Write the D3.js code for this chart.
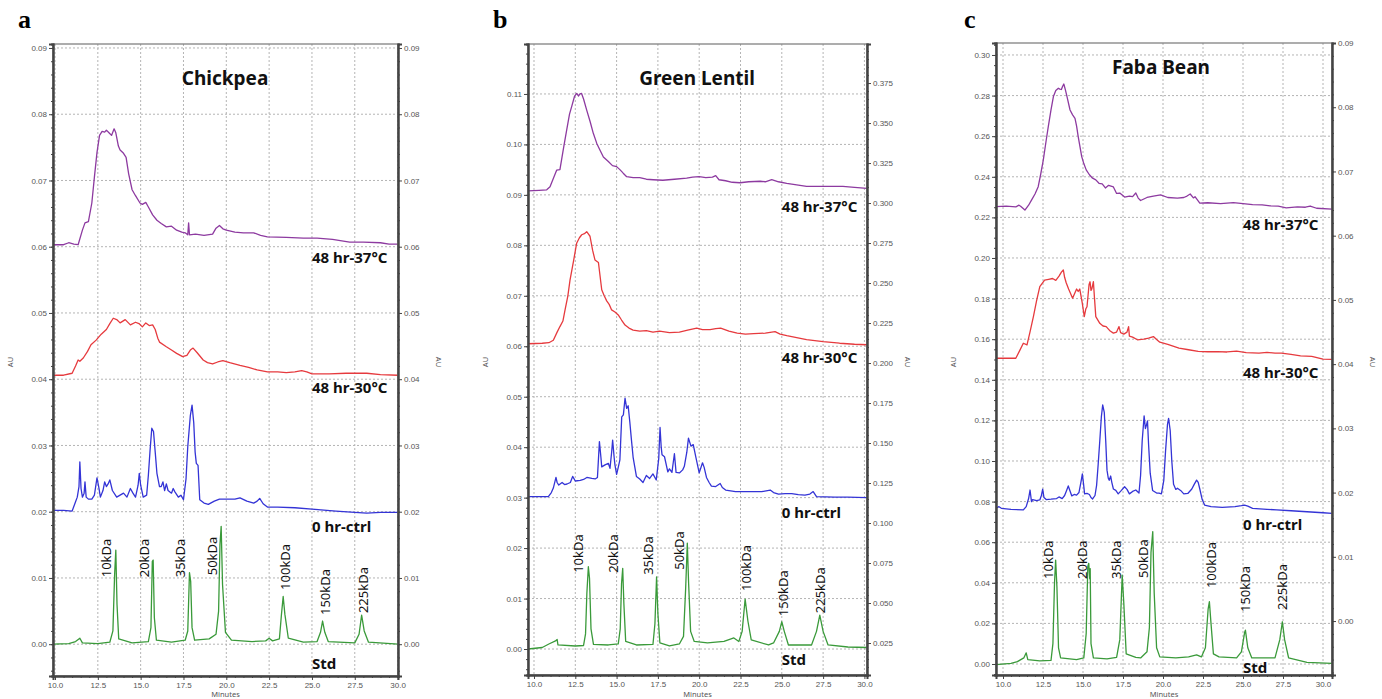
<!DOCTYPE html>
<html>
<head>
<meta charset="utf-8">
<script src="https://cdn.jsdelivr.net/npm/d3@7"></script>
<style>
  body { margin: 0; background: #fff; }
  svg { display: block; font-family: 'Noto Sans', sans-serif; }
</style>
</head>
<body>
<svg id="chart" width="1382" height="699"></svg>
<script>
// tick labels
let minuteTicks = [10, 12.5, 15, 17.5, 20, 22.5, 25, 27.5, 30]
let auTicksA = [0, 0.01, 0.02, 0.03, 0.04, 0.05, 0.06, 0.07, 0.08, 0.09]
let auTicksB = [0, 0.01, 0.02, 0.03, 0.04, 0.05, 0.06, 0.07, 0.08, 0.09, 0.10, 0.11]
let auTicksBRight = [0.025, 0.05, 0.075, 0.1, 0.125, 0.15, 0.175, 0.2, 0.225, 0.25, 0.275, 0.3, 0.325, 0.35, 0.375]
let auTicksC = [0, 0.02, 0.04, 0.06, 0.08, 0.10, 0.12, 0.14, 0.16, 0.18, 0.20, 0.22, 0.24, 0.26, 0.28, 0.30]
let auTicksCRight = [0, 0.01, 0.02, 0.03, 0.04, 0.05, 0.06, 0.07, 0.08, 0.09]

let seriesNames = ['48 hr-37°C', '48 hr-30°C', '0 hr-ctrl', 'Std']
let kdaNames = ['10kDa', '20kDa', '35kDa', '50kDa', '100kDa', '150kDa', '225kDa']

// chromatograms, [minutes, AU]
let chickpea37 = [[9.88,0.0603],[10.5,0.0603],[10.8,0.0606],[11.1,0.0604],[11.35,0.0603],[11.6,0.0625],[11.75,0.0636],[11.95,0.0638],[12.15,0.0666],[12.3,0.0705],[12.45,0.0742],[12.6,0.0768],[12.75,0.0774],[12.9,0.0773],[13.0,0.0776],[13.15,0.0772],[13.3,0.0768],[13.45,0.0778],[13.55,0.0772],[13.7,0.0752],[13.8,0.0746],[14.0,0.0741],[14.15,0.0735],[14.3,0.071],[14.5,0.0686],[14.7,0.0677],[14.96,0.0666],[15.1,0.0664],[15.3,0.0667],[15.45,0.066],[15.7,0.0648],[15.95,0.064],[16.2,0.0635],[16.5,0.063],[16.8,0.0631],[17.1,0.0625],[17.4,0.0622],[17.6,0.0621],[17.75,0.0618],[17.8,0.0636],[17.85,0.0618],[18.2,0.0619],[18.7,0.0617],[19.2,0.0619],[19.4,0.0628],[19.6,0.0632],[19.8,0.0627],[20.0,0.0625],[20.5,0.0622],[21.0,0.0621],[21.6,0.0621],[22.0,0.0617],[22.4,0.0615],[23.5,0.0614],[24.5,0.0613],[25.3,0.0613],[26.2,0.0611],[27.2,0.0607],[28.0,0.0607],[29.0,0.0606],[29.5,0.0604],[30.02,0.0604]]
let chickpea30 = [[9.88,0.0406],[10.5,0.0406],[11.0,0.0409],[11.2,0.042],[11.35,0.0429],[11.45,0.0427],[11.65,0.0432],[11.9,0.0442],[12.1,0.0452],[12.4,0.0459],[12.7,0.0468],[13.0,0.0475],[13.2,0.0484],[13.4,0.0492],[13.6,0.049],[13.8,0.0485],[14.1,0.049],[14.4,0.0482],[14.7,0.0486],[14.9,0.0484],[15.1,0.0479],[15.3,0.0485],[15.5,0.0481],[15.7,0.0482],[15.85,0.0475],[16.0,0.0462],[16.1,0.0456],[16.5,0.0449],[16.8,0.0444],[17.1,0.0439],[17.45,0.0434],[17.7,0.0436],[17.9,0.0444],[18.06,0.0447],[18.3,0.044],[18.65,0.0429],[18.9,0.0425],[19.2,0.0423],[19.5,0.0426],[19.8,0.0428],[20.2,0.0425],[20.8,0.0421],[21.3,0.0418],[21.8,0.0414],[22.4,0.0411],[23.0,0.0411],[23.5,0.041],[24.0,0.0411],[24.4,0.0413],[24.7,0.0411],[25.0,0.0408],[26.0,0.0408],[27.0,0.0409],[28.2,0.0409],[29.0,0.0407],[30.02,0.0406]]
let chickpeaCtrl = [[9.88,0.0202],[10.5,0.0202],[11.0,0.0201],[11.2,0.0215],[11.3,0.0222],[11.4,0.0238],[11.45,0.0275],[11.52,0.0235],[11.6,0.0222],[11.7,0.0228],[11.75,0.0245],[11.82,0.0222],[11.95,0.0219],[12.15,0.0219],[12.3,0.0225],[12.45,0.0251],[12.55,0.0238],[12.65,0.0222],[12.8,0.0232],[12.9,0.0245],[13.0,0.0238],[13.1,0.0242],[13.2,0.0248],[13.35,0.0232],[13.6,0.0222],[13.8,0.0225],[14.0,0.0228],[14.2,0.0222],[14.4,0.0235],[14.55,0.0228],[14.7,0.0222],[14.85,0.024],[14.92,0.0258],[15.0,0.024],[15.15,0.0222],[15.35,0.0225],[15.45,0.0255],[15.55,0.0293],[15.65,0.0326],[15.75,0.0321],[15.85,0.029],[15.95,0.0258],[16.1,0.0238],[16.2,0.0238],[16.3,0.0245],[16.4,0.0232],[16.5,0.0242],[16.6,0.0232],[16.8,0.0228],[16.9,0.0235],[17.0,0.023],[17.2,0.0222],[17.35,0.0225],[17.5,0.0218],[17.65,0.025],[17.75,0.0298],[17.9,0.0345],[18.0,0.0361],[18.1,0.0334],[18.18,0.029],[18.25,0.0273],[18.35,0.027],[18.45,0.0218],[18.7,0.0213],[18.95,0.0211],[19.3,0.0216],[19.6,0.0219],[20.0,0.0219],[20.5,0.0219],[20.8,0.0221],[21.2,0.0216],[21.6,0.0213],[21.8,0.0216],[21.95,0.022],[22.15,0.0212],[22.4,0.0207],[23.0,0.0207],[24.0,0.0206],[25.0,0.0204],[26.4,0.0201],[27.5,0.0199],[28.2,0.0198],[29.0,0.0199],[30.02,0.0199]]
let chickpeaStd = [[9.88,0.0],[10.8,0.0001],[11.2,0.0004],[11.45,0.0009],[11.6,0.0002],[12.5,0.0001],[13.2,0.0003],[13.38,0.002],[13.48,0.0105],[13.55,0.0142],[13.62,0.006],[13.72,0.0008],[14.5,0.0002],[15.45,0.0004],[15.6,0.0025],[15.68,0.0125],[15.73,0.0127],[15.8,0.004],[15.92,0.0006],[16.8,0.0003],[17.6,0.0006],[17.75,0.002],[17.85,0.0108],[17.92,0.0095],[18.0,0.0025],[18.15,0.0006],[19.0,0.0008],[19.4,0.0015],[19.55,0.005],[19.63,0.015],[19.7,0.0178],[19.78,0.009],[19.95,0.0018],[20.3,0.0006],[21.5,0.0004],[22.3,0.0005],[22.5,0.0009],[22.7,0.0005],[23.1,0.0008],[23.22,0.0045],[23.32,0.0072],[23.42,0.0045],[23.62,0.0009],[24.5,0.0003],[25.3,0.0004],[25.5,0.0018],[25.62,0.0035],[25.75,0.0018],[25.95,0.0004],[27.5,0.0002],[27.75,0.0015],[27.9,0.0044],[28.05,0.002],[28.3,0.0003],[30.02,0.0]]

let lentil37 = [[9.64,0.0908],[10.3,0.0909],[10.77,0.091],[10.97,0.0916],[11.2,0.0935],[11.37,0.0949],[11.57,0.095],[11.8,0.0995],[11.98,0.1029],[12.15,0.106],[12.28,0.1075],[12.45,0.1095],[12.58,0.1101],[12.7,0.1096],[12.78,0.11],[12.88,0.1101],[13.0,0.109],[13.19,0.1068],[13.4,0.1045],[13.59,0.1022],[13.8,0.1002],[13.99,0.0989],[14.2,0.0975],[14.5,0.0966],[14.75,0.0958],[15.0,0.0956],[15.2,0.095],[15.4,0.0943],[15.61,0.0936],[16.0,0.0934],[16.4,0.0934],[16.8,0.0931],[17.22,0.093],[17.8,0.0929],[18.5,0.0931],[19.24,0.0933],[19.6,0.0935],[20.0,0.0936],[20.4,0.0934],[20.8,0.0935],[21.0,0.0938],[21.2,0.093],[21.6,0.0928],[22.0,0.0925],[22.47,0.0924],[23.0,0.0926],[23.7,0.0927],[24.0,0.0926],[24.39,0.093],[24.8,0.0926],[25.3,0.0923],[25.9,0.092],[26.5,0.0917],[27.5,0.0917],[28.7,0.0917],[29.4,0.0915],[30.16,0.0913]]
let lentil30 = [[9.64,0.0605],[10.5,0.0606],[10.9,0.0607],[11.17,0.0612],[11.4,0.0628],[11.57,0.0639],[11.75,0.065],[11.88,0.0672],[12.05,0.07],[12.18,0.0731],[12.4,0.077],[12.58,0.0804],[12.75,0.0815],[12.89,0.0821],[13.05,0.0823],[13.19,0.0827],[13.3,0.0822],[13.39,0.0818],[13.55,0.079],[13.69,0.0771],[13.9,0.0766],[14.1,0.0712],[14.25,0.07],[14.4,0.069],[14.55,0.0683],[14.7,0.0672],[14.9,0.0668],[15.1,0.0662],[15.3,0.0652],[15.51,0.0642],[15.75,0.0636],[16.0,0.0632],[16.4,0.063],[16.8,0.0631],[17.2,0.0628],[17.6,0.063],[18.2,0.0627],[18.8,0.0628],[19.3,0.0632],[19.85,0.0636],[20.2,0.0633],[20.66,0.0633],[21.0,0.0635],[21.3,0.0636],[21.8,0.063],[22.3,0.0626],[22.8,0.0624],[23.3,0.0625],[24.0,0.0626],[24.59,0.0629],[24.9,0.0624],[25.3,0.0621],[25.9,0.0617],[26.5,0.0613],[27.5,0.0609],[28.5,0.0606],[29.4,0.0604],[30.16,0.0603]]
let lentilCtrl = [[9.64,0.0302],[10.3,0.0302],[10.87,0.0302],[11.05,0.031],[11.17,0.0319],[11.33,0.034],[11.4,0.033],[11.5,0.0325],[11.7,0.033],[11.85,0.0326],[12.0,0.0327],[12.2,0.033],[12.34,0.0342],[12.5,0.0333],[12.8,0.0334],[13.0,0.0336],[13.2,0.034],[13.5,0.0338],[13.7,0.0337],[13.84,0.034],[13.96,0.0411],[14.05,0.038],[14.1,0.0361],[14.3,0.0365],[14.5,0.0368],[14.6,0.0358],[14.7,0.039],[14.76,0.0414],[14.85,0.038],[14.9,0.0365],[15.0,0.0346],[15.1,0.036],[15.2,0.0375],[15.31,0.046],[15.41,0.0464],[15.51,0.0497],[15.61,0.0477],[15.7,0.0482],[15.8,0.045],[15.9,0.0414],[16.0,0.038],[16.1,0.0361],[16.2,0.0342],[16.4,0.0337],[16.6,0.033],[16.8,0.0344],[17.0,0.0338],[17.2,0.0347],[17.4,0.0335],[17.55,0.0377],[17.63,0.0439],[17.7,0.04],[17.75,0.0385],[17.9,0.0381],[18.1,0.0351],[18.2,0.0357],[18.35,0.035],[18.5,0.0387],[18.6,0.035],[18.8,0.0349],[19.0,0.0355],[19.1,0.0362],[19.25,0.039],[19.35,0.0418],[19.5,0.0402],[19.64,0.0405],[19.8,0.038],[20.0,0.0349],[20.2,0.0369],[20.3,0.036],[20.44,0.034],[20.6,0.033],[20.74,0.0323],[21.0,0.0322],[21.27,0.0328],[21.4,0.032],[21.6,0.0315],[22.2,0.0312],[23.2,0.0312],[23.8,0.0312],[24.3,0.0315],[24.5,0.031],[24.8,0.0307],[25.2,0.0308],[25.6,0.0308],[26.0,0.0306],[26.4,0.0305],[26.7,0.0307],[26.9,0.0312],[27.1,0.0302],[28.2,0.0301],[29.0,0.0301],[30.16,0.03]]
let lentilStd = [[9.64,0.0],[10.5,0.0003],[10.9,0.001],[11.3,0.0016],[11.4,0.0019],[11.45,0.0008],[12.5,0.0006],[13.0,0.0007],[13.12,0.003],[13.2,0.011],[13.29,0.0163],[13.36,0.014],[13.45,0.004],[13.6,0.0009],[14.5,0.0008],[15.1,0.001],[15.22,0.004],[15.3,0.013],[15.37,0.016],[15.44,0.009],[15.55,0.0015],[16.2,0.0008],[17.2,0.0009],[17.32,0.005],[17.42,0.0143],[17.5,0.007],[17.62,0.0012],[18.2,0.0006],[18.8,0.001],[19.05,0.0025],[19.18,0.012],[19.28,0.021],[19.36,0.013],[19.48,0.0035],[19.7,0.0015],[20.5,0.0012],[21.5,0.0015],[22.1,0.0022],[22.4,0.0015],[22.6,0.0035],[22.78,0.0099],[22.95,0.0055],[23.15,0.0018],[24.2,0.0008],[24.5,0.0012],[24.85,0.0035],[25.0,0.0054],[25.15,0.0035],[25.4,0.0008],[26.8,0.0008],[27.1,0.0035],[27.3,0.0067],[27.5,0.0035],[27.8,0.0008],[29.0,0.0004],[30.16,0.0003]]

let faba37 = [[9.56,0.2253],[10.2,0.2255],[10.8,0.2252],[11.0,0.226],[11.1,0.2255],[11.37,0.2236],[11.6,0.226],[11.79,0.2286],[12.0,0.2315],[12.2,0.2351],[12.35,0.241],[12.52,0.2483],[12.7,0.258],[12.83,0.2647],[13.0,0.273],[13.15,0.2795],[13.3,0.2825],[13.46,0.2836],[13.55,0.2832],[13.65,0.283],[13.72,0.2845],[13.8,0.2857],[13.9,0.2828],[14.0,0.2795],[14.19,0.2729],[14.35,0.2705],[14.5,0.2688],[14.6,0.265],[14.7,0.2598],[14.92,0.2499],[15.05,0.2465],[15.2,0.2434],[15.4,0.241],[15.6,0.2393],[15.8,0.2385],[16.0,0.2368],[16.2,0.2365],[16.4,0.2345],[16.6,0.2358],[16.9,0.235],[17.1,0.2318],[17.3,0.232],[17.6,0.23],[17.9,0.2305],[18.1,0.2302],[18.3,0.232],[18.45,0.2295],[18.6,0.2283],[19.0,0.2298],[19.4,0.2305],[19.85,0.2311],[20.3,0.2298],[20.9,0.2295],[21.3,0.2298],[21.5,0.2305],[21.7,0.2315],[21.9,0.2296],[22.0,0.2302],[22.3,0.227],[22.8,0.2272],[23.6,0.2268],[24.4,0.2273],[25.0,0.2268],[25.6,0.2263],[26.2,0.2262],[26.7,0.2257],[27.2,0.2255],[27.7,0.2247],[28.4,0.2252],[28.9,0.225],[29.2,0.2256],[29.6,0.2245],[30.56,0.2241]]
let faba30 = [[9.56,0.1506],[10.3,0.1506],[10.8,0.1506],[11.05,0.1545],[11.27,0.158],[11.5,0.1572],[11.7,0.164],[11.9,0.1711],[12.1,0.179],[12.3,0.1859],[12.6,0.1891],[12.85,0.1895],[13.1,0.1899],[13.3,0.189],[13.5,0.1911],[13.65,0.193],[13.77,0.1941],[13.85,0.1905],[13.95,0.1878],[14.1,0.1847],[14.35,0.1802],[14.45,0.182],[14.6,0.1847],[14.7,0.1835],[14.8,0.1847],[14.95,0.178],[15.08,0.1711],[15.18,0.175],[15.25,0.176],[15.38,0.187],[15.44,0.1883],[15.5,0.184],[15.55,0.1847],[15.65,0.1883],[15.72,0.18],[15.8,0.1711],[16.05,0.1678],[16.25,0.1665],[16.45,0.1662],[16.7,0.164],[16.9,0.163],[17.1,0.1635],[17.25,0.1662],[17.35,0.1632],[17.55,0.1625],[17.75,0.1635],[17.85,0.1662],[17.9,0.1615],[18.1,0.161],[18.4,0.1597],[18.8,0.16],[19.1,0.1605],[19.4,0.1613],[19.6,0.1598],[19.8,0.1585],[20.3,0.1575],[21.0,0.1556],[21.6,0.1548],[22.2,0.154],[22.8,0.1538],[23.4,0.1539],[24.0,0.1537],[24.6,0.1541],[25.2,0.1534],[26.0,0.1531],[26.5,0.1535],[27.0,0.1531],[27.4,0.1531],[28.0,0.1525],[28.6,0.1518],[29.3,0.1515],[30.0,0.1502],[30.56,0.1501]]
let fabaCtrl = [[9.56,0.0767],[9.75,0.0775],[9.9,0.0767],[10.5,0.0762],[11.27,0.0759],[11.45,0.0775],[11.6,0.0815],[11.69,0.0857],[11.78,0.08],[11.85,0.081],[12.1,0.0805],[12.3,0.0808],[12.4,0.083],[12.48,0.0861],[12.56,0.082],[12.7,0.081],[13.0,0.0812],[13.35,0.0815],[13.5,0.0823],[13.7,0.0815],[13.85,0.083],[13.95,0.085],[14.08,0.0877],[14.2,0.085],[14.3,0.0828],[14.45,0.0835],[14.6,0.0832],[14.75,0.0845],[14.88,0.09],[14.96,0.0936],[15.03,0.089],[15.1,0.0838],[15.25,0.084],[15.4,0.0835],[15.5,0.082],[15.6,0.0813],[15.75,0.083],[15.85,0.088],[15.95,0.0985],[16.05,0.11],[16.15,0.122],[16.23,0.1276],[16.33,0.124],[16.42,0.11],[16.5,0.0955],[16.58,0.0915],[16.64,0.0905],[16.73,0.0926],[16.8,0.0895],[16.9,0.0862],[17.05,0.0855],[17.2,0.0838],[17.4,0.0855],[17.6,0.0873],[17.75,0.086],[17.9,0.0838],[18.1,0.085],[18.3,0.0857],[18.5,0.0842],[18.6,0.093],[18.7,0.11],[18.82,0.1222],[18.9,0.116],[18.97,0.1178],[19.03,0.1198],[19.1,0.108],[19.2,0.094],[19.35,0.0855],[19.6,0.0842],[19.75,0.0842],[19.9,0.0838],[20.05,0.0905],[20.16,0.105],[20.28,0.118],[20.35,0.121],[20.45,0.115],[20.55,0.1],[20.66,0.0885],[20.8,0.086],[20.9,0.0866],[21.1,0.0855],[21.3,0.0838],[21.55,0.084],[21.8,0.0862],[21.95,0.0885],[22.1,0.0906],[22.2,0.0895],[22.3,0.0862],[22.45,0.081],[22.6,0.0783],[23.0,0.0775],[23.7,0.0772],[24.5,0.0775],[24.9,0.078],[25.1,0.0783],[25.3,0.0778],[25.6,0.0767],[26.5,0.0762],[27.1,0.0759],[28.0,0.0755],[29.0,0.075],[30.0,0.0745],[30.56,0.0742]]
let fabaStd = [[9.56,-0.0003],[10.5,0.0003],[10.9,0.0012],[11.3,0.003],[11.45,0.0055],[11.55,0.0022],[12.3,0.0015],[13.0,0.0018],[13.12,0.01],[13.22,0.04],[13.29,0.0512],[13.37,0.038],[13.47,0.008],[13.6,0.003],[14.6,0.0022],[15.05,0.003],[15.2,0.015],[15.3,0.048],[15.36,0.0496],[15.42,0.042],[15.45,0.047],[15.5,0.01],[15.65,0.003],[16.5,0.0025],[17.1,0.0033],[17.3,0.012],[17.45,0.0438],[17.55,0.03],[17.7,0.005],[18.3,0.0033],[18.6,0.003],[19.0,0.006],[19.15,0.018],[19.25,0.055],[19.36,0.0652],[19.45,0.035],[19.6,0.008],[19.8,0.0035],[20.8,0.003],[21.6,0.0035],[22.1,0.0045],[22.4,0.0035],[22.65,0.008],[22.82,0.027],[22.9,0.0307],[23.0,0.02],[23.15,0.005],[23.5,0.0035],[24.6,0.003],[24.9,0.006],[25.1,0.0155],[25.15,0.0167],[25.3,0.008],[25.55,0.003],[27.0,0.003],[27.3,0.012],[27.46,0.0208],[27.6,0.012],[27.85,0.003],[29.0,0.0008],[30.56,0.0003]]

let colors = ['#8d3aa0', '#e63a3e', '#3434d6', '#3a9a3a']

let panels = [
  {
    letter: 'a', letterX: 18, title: 'Chickpea', titleX: 225, titleY: 78,
    left: 53, right: 398, top: 44, bottom: 676,
    xDomain: [9.883, 30.023], yDomain: [-0.0048, 0.0906], yTicks: auTicksA, yMinor: 0.002,
    rDomain: [-0.0048, 0.0906], rTicks: auTicksA, rMinor: 0.002, rFormat: '.2f',
    series: [chickpea37, chickpea30, chickpeaCtrl, chickpeaStd],
    nameY: [0.0583, 0.0387, 0.0177, -0.003],
    kdaAt: [[13.0, 0.0101], [15.2, 0.0101], [17.3, 0.0101], [19.17, 0.0104], [23.43, 0.0082], [25.76, 0.0044], [27.98, 0.0047]]
  },
  {
    letter: 'b', letterX: 493, title: 'Green Lentil', titleX: 697, titleY: 78,
    left: 528, right: 867, top: 44, bottom: 675,
    xDomain: [9.637, 30.157], yDomain: [-0.00515, 0.1199], yTicks: auTicksB, yMinor: 0.002,
    rDomain: [0.005, 0.3994], rTicks: auTicksBRight, rMinor: 0.005, rFormat: '.3f',
    series: [lentil37, lentil30, lentilCtrl, lentilStd],
    nameY: [0.0876, 0.0577, 0.027, -0.0022],
    kdaAt: [[12.66, 0.0151], [14.78, 0.0151], [16.9, 0.0147], [18.78, 0.0157], [22.83, 0.0115], [25.07, 0.0065], [27.31, 0.0071]]
  },
  {
    letter: 'c', letterX: 964, title: 'Faba Bean', titleX: 1161, titleY: 67,
    left: 996, right: 1332, top: 43, bottom: 675,
    xDomain: [9.5625, 30.5625], yDomain: [-0.00542, 0.3059], yTicks: auTicksC, yMinor: 0.005,
    rDomain: [-0.0084, 0.09], rTicks: auTicksCRight, rMinor: 0.002, rFormat: '.2f',
    series: [faba37, faba30, fabaCtrl, fabaStd],
    nameY: [0.2163, 0.1433, 0.0685, -0.002],
    kdaAt: [[12.81, 0.0419], [14.94, 0.0419], [17.06, 0.0419], [18.75, 0.0424], [23.0, 0.0374], [25.13, 0.0256], [27.44, 0.0266]]
  }
]

let svg = d3.select('#chart')

panels.forEach((p, i) => {
  let g = svg.append('g')
  let x = d3.scaleLinear().domain(p.xDomain).range([p.left, p.right])
  let y = d3.scaleLinear().domain(p.yDomain).range([p.bottom, p.top])
  let yr = d3.scaleLinear().domain(p.rDomain).range([p.bottom, p.top])

  // grid
  g.append('g').selectAll('line')
    .data(minuteTicks)
    .enter()
    .append('line')
    .attr('x1', d => x(d)).attr('x2', d => x(d))
    .attr('y1', p.top).attr('y2', p.bottom)
    .attr('stroke', '#b4b4b4').attr('stroke-dasharray', '2,2')
  g.append('g').selectAll('line')
    .data(p.yTicks)
    .enter()
    .append('line')
    .attr('x1', p.left).attr('x2', p.right)
    .attr('y1', d => y(d)).attr('y2', d => y(d))
    .attr('stroke', '#b4b4b4').attr('stroke-dasharray', '2,2')

  // traces
  let clipId = 'clip' + i
  g.append('clipPath').attr('id', clipId)
    .append('rect')
    .attr('x', p.left).attr('y', p.top)
    .attr('width', p.right - p.left).attr('height', p.bottom - p.top)
  let line = d3.line().x(d => x(d[0])).y(d => y(d[1]))
  g.append('g').attr('clip-path', 'url(#' + clipId + ')')
    .selectAll('path')
    .data(p.series)
    .enter()
    .append('path')
    .attr('d', line)
    .attr('fill', 'none')
    .attr('stroke', (d, j) => colors[j])
    .attr('stroke-width', 1.3)
    .attr('stroke-linejoin', 'round')

  // frame
  g.append('rect')
    .attr('x', p.left).attr('y', p.top)
    .attr('width', p.right - p.left).attr('height', p.bottom - p.top)
    .attr('fill', 'none').attr('stroke', '#777').attr('stroke-width', 1.2)

  // axes
  let styleAxis = sel => {
    sel.select('.domain').attr('stroke', '#444').attr('stroke-width', 2)
    sel.selectAll('.tick line').attr('stroke', '#444')
    sel.selectAll('.tick text').attr('fill', '#555').attr('font-size', 8)
  }
  let minor = (dom, step) => d3.range(Math.ceil(dom[0] / step) * step, dom[1], step)

  g.append('g').attr('transform', 'translate(' + [p.left, 0] + ')')
    .call(d3.axisLeft(y).tickValues(minor(p.yDomain, p.yMinor)).tickSize(2).tickFormat(''))
    .call(styleAxis)
  g.append('g').attr('transform', 'translate(' + [p.left, 0] + ')')
    .call(d3.axisLeft(y).tickValues(p.yTicks).tickSize(4).tickPadding(2).tickFormat(d3.format('.2f')))
    .call(styleAxis)
  g.append('g').attr('transform', 'translate(' + [p.right, 0] + ')')
    .call(d3.axisRight(yr).tickValues(minor(p.rDomain, p.rMinor)).tickSize(2).tickFormat(''))
    .call(styleAxis)
  g.append('g').attr('transform', 'translate(' + [p.right, 0] + ')')
    .call(d3.axisRight(yr).tickValues(p.rTicks).tickSize(4).tickPadding(2).tickFormat(d3.format(p.rFormat)))
    .call(styleAxis)
  g.append('g').attr('transform', 'translate(' + [0, p.bottom] + ')')
    .call(d3.axisBottom(x).tickValues(minor(p.xDomain, 0.5)).tickSize(2).tickFormat(''))
    .call(styleAxis)
  g.append('g').attr('transform', 'translate(' + [0, p.bottom] + ')')
    .call(d3.axisBottom(x).tickValues(minuteTicks).tickSize(4).tickPadding(2).tickFormat(d3.format('.1f')))
    .call(styleAxis)

  // axis titles
  g.append('text')
    .attr('x', (p.left + p.right) / 2).attr('y', 697)
    .attr('text-anchor', 'middle').attr('font-size', 7.5).attr('fill', '#555')
    .text('Minutes')
  g.append('text')
    .attr('transform', 'translate(' + [p.left - 40, 362] + ') rotate(-90)')
    .attr('text-anchor', 'middle').attr('font-size', 7.5).attr('fill', '#555')
    .text('AU')
  g.append('text')
    .attr('transform', 'translate(' + [p.right + 38, 362] + ') rotate(90)')
    .attr('text-anchor', 'middle').attr('font-size', 7.5).attr('fill', '#555')
    .text('AU')

  // panel letter and title
  svg.append('text')
    .attr('x', p.letterX).attr('y', 28)
    .attr('font-family', "'Liberation Serif', serif").attr('font-weight', 'bold').attr('font-size', 26)
    .text(p.letter)
  g.append('text')
    .attr('x', p.titleX).attr('y', p.titleY).attr('dy', '0.35em')
    .attr('text-anchor', 'middle').attr('font-weight', 'bold').attr('font-size', 19).attr('fill', '#111')
    .text(p.title)

  // trace names
  g.selectAll('.name')
    .data(seriesNames)
    .enter()
    .append('text')
    .attr('x', x(25)).attr('y', (d, j) => y(p.nameY[j])).attr('dy', '0.35em')
    .attr('font-weight', 'bold').attr('font-size', 15).attr('fill', '#111')
    .text(d => d)

  // standard markers
  g.selectAll('.kda')
    .data(kdaNames)
    .enter()
    .append('text')
    .attr('transform', (d, j) => 'translate(' + [x(p.kdaAt[j][0]), y(p.kdaAt[j][1])] + ') rotate(-90)')
    .attr('dy', '0.35em').attr('font-size', 13).attr('fill', '#111')
    .text(d => d)
})
</script>
</body>
</html>
